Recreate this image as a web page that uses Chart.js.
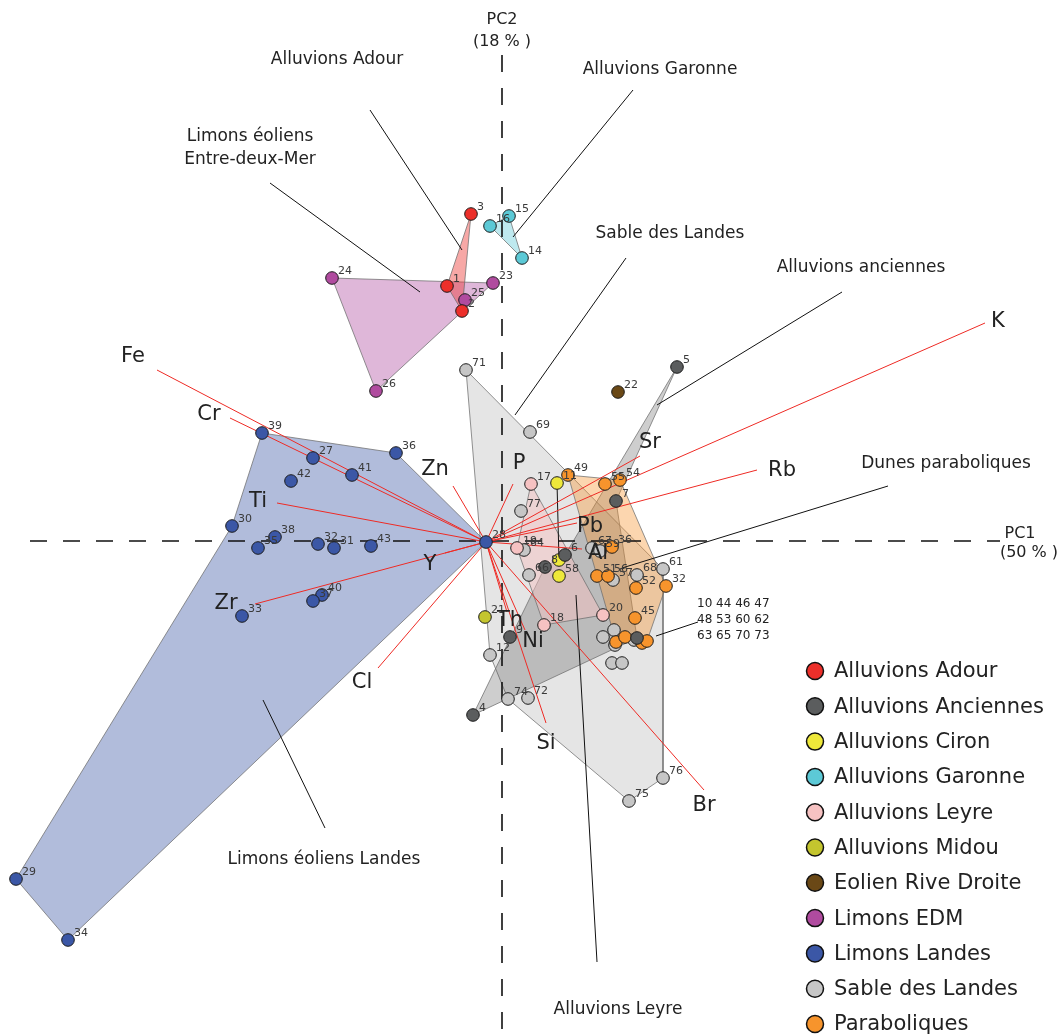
<!DOCTYPE html>
<html>
<head>
<meta charset="utf-8">
<title>ACP - sediments</title>
<script src="https://cdn.jsdelivr.net/npm/chart.js@4.4.0/dist/chart.umd.min.js"></script>
<style>
  html, body { margin: 0; padding: 0; background: #fff; }
  canvas { display: block; }
</style>
</head>
<body>
<canvas id="pcaChart" width="1057" height="1034"></canvas>
<script>
// groups (legend order)
const groupNames = ['Alluvions Adour', 'Alluvions Anciennes', 'Alluvions Ciron', 'Alluvions Garonne',
  'Alluvions Leyre', 'Alluvions Midou', 'Eolien Rive Droite', 'Limons EDM', 'Limons Landes',
  'Sable des Landes', 'Paraboliques'];
const groupColors = ['#ec2f2a', '#5b5d5e', '#eee83a', '#5cc9d6', '#f6c2c2', '#c4c52e', '#6a4816',
  '#b04b9f', '#3b57a6', '#c6c6c6', '#f7942c'];

// sample scores on PC1 / PC2, ids, hull vertex order
const adourX = [-0.15, -0.39, -0.24];
const adourY = [3.28, 2.56, 2.31];
const adourIds = ['3', '1', '2'];
const adourHull = [0, 2, 1];

const anciennesX = [1.91, 1.30, 0.79, 0.59, 0.24, -0.13, 1.51];
const anciennesY = [1.75, 0.41, -0.13, -0.25, -0.95, -1.73, -0.96];
const anciennesIds = ['5', '7', '6', '8', '9', '4', ''];
const anciennesHull = [0, 1, 6, 5, 3, 2];

const cironX = [0.71, 0.73, 0.73];
const cironY = [0.59, -0.18, -0.34];
const cironIds = ['11', '', '58'];
const cironHull = [0, 1];

const garonneX = [0.23, 0.04, 0.36];
const garonneY = [3.26, 3.16, 2.84];
const garonneIds = ['15', '16', '14'];
const garonneHull = [0, 2, 1];

const leyreX = [0.45, 0.31, 0.58, 1.17];
const leyreY = [0.58, -0.06, -0.83, -0.73];
const leyreIds = ['17', '19', '18', '20'];
const leyreHull = [0, 3, 2, 1];

const midouX = [-0.01];
const midouY = [-0.75];
const midouIds = ['21'];

const eolienX = [1.32];
const eolienY = [1.50];
const eolienIds = ['22'];

const edmX = [-1.54, 0.07, -0.21, -1.10];
const edmY = [2.64, 2.59, 2.42, 1.51];
const edmIds = ['24', '23', '25', '26'];
const edmHull = [0, 1, 3];

const landesX = [-2.24, -1.73, -0.90, -1.34, -1.95, -2.54, -2.11, -2.28, -1.68, -1.52, -1.15, 0.00, -1.64, -1.73, -2.44, -4.70, -4.18];
const landesY = [1.09, 0.84, 0.89, 0.67, 0.61, 0.16, 0.05, -0.06, -0.02, -0.06, -0.04, 0.00, -0.53, -0.59, -0.74, -3.37, -3.98];
const landesIds = ['39', '27', '36', '41', '42', '30', '38', '35', '32', '31', '43', '28', '40', '37', '33', '29', '34'];
const landesHull = [0, 2, 11, 16, 15, 5];

const sableX = [-0.20, 0.44, 0.35, 0.38, 0.43, 0.04, 0.22, 0.42, 1.43, 1.77, 1.77, 1.51, 1.06, 1.14, 1.27, 1.28, 1.17, 1.48, 1.26, 1.36, 1.29];
const sableY = [1.72, 1.10, 0.31, -0.08, -0.33, -1.13, -1.57, -1.56, -2.59, -2.36, -0.27, -0.33, -0.06, -0.09, -0.38, -0.88, -0.95, -0.98, -1.21, -1.21, -1.03];
const sableIds = ['71', '69', '77', '64', '66', '12', '74', '72', '75', '76', '61', '68', '67', '59', '57', '', '', '', '', '', ''];
const sableHull = [0, 10, 9, 8, 6, 5];

const paraX = [0.82, 1.19, 1.34, 1.26, 1.11, 1.22, 1.50, 1.80, 1.49, 1.30, 1.39, 1.56, 1.61];
const paraY = [0.67, 0.58, 0.62, -0.05, -0.34, -0.34, -0.46, -0.44, -0.76, -1.00, -0.95, -1.01, -0.99];
const paraIds = ['49', '55', '54', '36', '51', '56', '52', '32', '45', '', '', '', ''];
const paraHull = [0, 2, 7, 12, 9];

// variable loadings (arrows from the origin)
const varNames = ['K', 'Rb', 'Sr', 'Fe', 'Cr', 'Ti', 'Zr', 'Y', 'Cl', 'Zn', 'P', 'Th', 'Ni', 'Si', 'Br', 'Pb', 'Al'];
const varX = [4.99, 2.71, 1.54, -3.29, -2.56, -2.09, -2.31, -0.41, -1.08, -0.33, 0.27, 0.21, 0.39, 0.60, 2.18, 0.91, 0.96];
const varY = [2.19, 0.72, 0.86, 1.72, 1.24, 0.39, -0.62, -0.11, -1.26, 0.56, 0.58, -0.70, -0.88, -1.81, -2.48, 0.19, -0.07];

// ---- layout / styling ----
const varLabelOffset = [[13, -1], [25, 1], [10, -13], [-24, -13], [-21, -3], [-19, -1], [-29, 0], [-15, 12],
  [-16, 15], [-18, -16], [6, -20], [3, 9], [8, 12], [0, 21], [0, 16], [13, 4], [16, 5]];

const groups = [
  { x: adourX, y: adourY, ids: adourIds, hull: adourHull, fill: 'rgba(236,47,42,0.42)', order: 5 },
  { x: anciennesX, y: anciennesY, ids: anciennesIds, hull: anciennesHull, fill: 'rgba(80,80,80,0.28)', order: 8 },
  { x: cironX, y: cironY, ids: cironIds, hull: cironHull, fill: null, order: 3 },
  { x: garonneX, y: garonneY, ids: garonneIds, hull: garonneHull, fill: 'rgba(92,201,214,0.4)', order: 5 },
  { x: leyreX, y: leyreY, ids: leyreIds, hull: leyreHull, fill: 'rgba(246,194,194,0.5)', order: 6 },
  { x: midouX, y: midouY, ids: midouIds, hull: [], fill: null, order: 6 },
  { x: eolienX, y: eolienY, ids: eolienIds, hull: [], fill: null, order: 6 },
  { x: edmX, y: edmY, ids: edmIds, hull: edmHull, fill: 'rgba(176,75,159,0.4)', order: 6 },
  { x: landesX, y: landesY, ids: landesIds, hull: landesHull, fill: 'rgba(59,87,166,0.4)', order: 7 },
  { x: sableX, y: sableY, ids: sableIds, hull: sableHull, fill: 'rgba(190,190,190,0.4)', order: 9 },
  { x: paraX, y: paraY, ids: paraIds, hull: paraHull, fill: 'rgba(247,148,44,0.38)', order: 7 }
];

const axisLines = [
  [[-4.56, 0.01], [5.14, 0.01]],
  [[0.16, 4.87], [0.16, -4.95]]
];

const leaderLines = [
  [[-1.16, 4.32], [-0.24, 2.92]],
  [[1.47, 4.52], [0.27, 3.05]],
  [[-2.16, 3.59], [-0.66, 2.50]],
  [[1.40, 2.84], [0.29, 1.27]],
  [[3.56, 2.50], [1.71, 1.37]],
  [[4.02, 0.56], [1.36, -0.26]],
  [[2.12, -0.80], [1.70, -0.94]],
  [[-1.61, -2.86], [-2.23, -1.58]],
  [[1.11, -4.20], [0.90, -0.53]]
];

const notes = [
  ['Alluvions Adour', -1.49, 4.82, 17, 'center'],
  ['Alluvions Garonne', 1.74, 4.72, 17, 'center'],
  ['Limons éoliens', -2.36, 4.05, 17, 'center'],
  ['Entre-deux-Mer', -2.36, 3.82, 17, 'center'],
  ['Sable des Landes', 1.84, 3.08, 17, 'center'],
  ['Alluvions anciennes', 3.75, 2.74, 17, 'center'],
  ['Dunes paraboliques', 4.60, 0.78, 17, 'center'],
  ['Limons éoliens Landes', -1.62, -3.18, 17, 'center'],
  ['Alluvions Leyre', 1.32, -4.68, 17, 'center'],
  ['PC2', 0.16, 5.22, 16, 'center'],
  ['(18 % )', 0.16, 5.00, 16, 'center'],
  ['PC1', 5.34, 0.08, 16, 'center'],
  ['(50 % )', 5.43, -0.11, 16, 'center'],
  ['10 44 46 47', 2.11, -0.62, 12, 'left'],
  ['48 53 60 62', 2.11, -0.78, 12, 'left'],
  ['63 65 70 73', 2.11, -0.94, 12, 'left']
];

const FONT = '"DejaVu Sans", sans-serif';

const datasets = [];

groups.forEach((g, k) => {
  datasets.push({
    type: 'scatter',
    label: groupNames[k],
    data: g.x.map((v, i) => ({ x: v, y: g.y[i] })),
    backgroundColor: groupColors[k],
    borderColor: '#1c1c1c',
    borderWidth: 1,
    pointRadius: 6.3,
    order: k === 9 ? 1 : 0
  });
});

groups.forEach((g, k) => {
  if (g.hull.length < 2) return;
  const pts = g.hull.map(i => ({ x: g.x[i], y: g.y[i] }));
  if (g.hull.length > 2) pts.push(pts[0]);
  datasets.push({
    type: 'line',
    label: groupNames[k] + ' hull',
    data: pts,
    fill: g.fill ? 'shape' : false,
    backgroundColor: g.fill || 'transparent',
    borderColor: g.fill ? 'rgba(110,110,110,0.75)' : '#111',
    borderWidth: 1,
    pointRadius: 0,
    tension: 0,
    order: g.order
  });
});

varNames.forEach((name, i) => {
  datasets.push({
    type: 'line',
    label: name,
    data: [{ x: 0, y: 0 }, { x: varX[i], y: varY[i] }],
    borderColor: '#ee2a24',
    borderWidth: 1,
    pointRadius: 0,
    fill: false,
    order: 2
  });
});

axisLines.forEach(l => {
  datasets.push({
    type: 'line',
    data: l.map(p => ({ x: p[0], y: p[1] })),
    borderColor: '#111',
    borderWidth: 1.6,
    borderDash: [17, 16],
    pointRadius: 0,
    fill: false,
    order: 3
  });
});

leaderLines.forEach(l => {
  datasets.push({
    type: 'line',
    data: l.map(p => ({ x: p[0], y: p[1] })),
    borderColor: '#111',
    borderWidth: 1,
    pointRadius: 0,
    fill: false,
    order: 3
  });
});

const labelPlugin = {
  id: 'pcaLabels',
  afterDatasetsDraw(chart) {
    const ctx = chart.ctx;
    const xs = chart.scales.x, ys = chart.scales.y;
    ctx.save();

    // sample ids
    ctx.font = '11px ' + FONT;
    ctx.fillStyle = '#3a3a3a';
    ctx.textAlign = 'left';
    ctx.textBaseline = 'alphabetic';
    groups.forEach(g => g.ids.forEach((id, i) => {
      if (!id) return;
      ctx.fillText(id, xs.getPixelForValue(g.x[i]) + 6, ys.getPixelForValue(g.y[i]) - 4);
    }));

    // variable names
    ctx.font = '21px ' + FONT;
    ctx.fillStyle = '#222';
    ctx.textAlign = 'center';
    ctx.textBaseline = 'middle';
    varNames.forEach((name, i) => {
      const px = xs.getPixelForValue(varX[i]) + varLabelOffset[i][0];
      const py = ys.getPixelForValue(varY[i]) + varLabelOffset[i][1];
      ctx.fillText(name, px, py);
    });

    // annotations
    notes.forEach(n => {
      ctx.font = n[3] + 'px ' + FONT;
      ctx.textAlign = n[4];
      ctx.fillText(n[0], xs.getPixelForValue(n[1]), ys.getPixelForValue(n[2]));
    });

    // legend
    ctx.font = '21px ' + FONT;
    ctx.textAlign = 'left';
    groupNames.forEach((name, k) => {
      const cy = 671 + k * 35.3;
      ctx.beginPath();
      ctx.arc(815, cy, 8.5, 0, Math.PI * 2);
      ctx.fillStyle = groupColors[k];
      ctx.fill();
      ctx.lineWidth = 1.5;
      ctx.strokeStyle = '#111';
      ctx.stroke();
      ctx.fillStyle = '#222';
      ctx.fillText(name, 834, cy + 1);
    });
    ctx.restore();
  }
};

new Chart(document.getElementById('pcaChart'), {
  type: 'scatter',
  data: { datasets },
  options: {
    responsive: false,
    animation: false,
    devicePixelRatio: 1,
    events: [],
    layout: { padding: 0, autoPadding: false },
    plugins: {
      legend: { display: false },
      tooltip: { enabled: false }
    },
    scales: {
      x: { type: 'linear', display: false, min: -4.86, max: 5.71 },
      y: { type: 'linear', display: false, min: -4.92, max: 5.42 }
    }
  },
  plugins: [labelPlugin]
});
</script>
</body>
</html>
